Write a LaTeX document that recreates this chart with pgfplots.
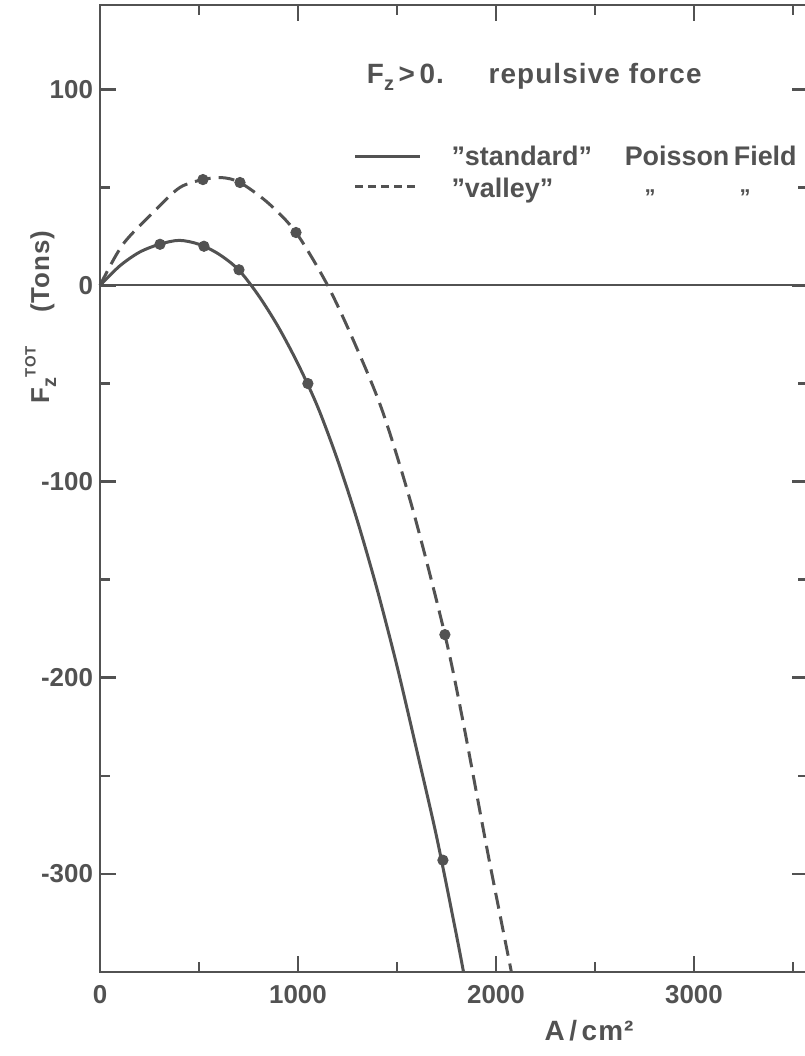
\documentclass[border=0pt]{standalone}
\usepackage{pgfplots}
\pgfplotsset{compat=1.18}
\usepackage{fontspec}
\setmainfont{Liberation Sans}
\newfontfamily\spaced[LetterSpace=4]{Liberation Sans}
\definecolor{ink}{RGB}{82,82,82}

\begin{document}
\begin{tikzpicture}
\begin{axis}[
    at={(0,0)}, anchor=south west,
    scale only axis, width=354bp, height=483.5bp,
    xmin=0, xmax=3576, ymin=-350, ymax=143,
    xtick={0,1000,2000,3000}, xticklabels={0,1000,2000,3000},
    minor xtick={500,1500,2500,3500},
    ytick={-300,-200,-100,0,100}, yticklabels={-300,-200,-100,0,100},
    minor ytick={-250,-150,-50,50},
    major tick length=8bp, minor tick length=5bp,
    axis line style={ink, line width=1.4bp},
    tick style={ink, line width=1.3bp},
    tick label style={font=\fontsize{13}{15}\selectfont\bfseries, text=ink},
    xticklabel style={yshift=-3bp},
    clip=false,
]
% zero line
\addplot[ink, line width=1bp] coordinates {(0,0) (3576,0)};

% "standard" Poisson field
\addplot[ink, line width=1.5bp, smooth] coordinates {
  (0,0) (100,10) (200,17) (300,21) (400,23) (500,21) (600,16) (700,8)
  (800,-5) (900,-21) (1000,-40) (1100,-62) (1200,-89) (1300,-120)
  (1400,-155) (1500,-194) (1600,-237) (1700,-281) (1800,-331) (1836,-350)};
\addplot[ink, only marks, mark=*, mark size=2.6bp] coordinates {
  (303,21) (525,20) (702,8) (1050,-50) (1732,-293)};

% "valley"
\addplot[ink, line width=1.5bp, smooth, dash pattern=on 8bp off 4bp] coordinates {
  (0,0) (116,21) (286,39) (404,50) (520,54) (615,55) (707,52.5) (850,42)
  (990,27) (1150,0) (1293,-31) (1430,-65) (1582,-115) (1742,-178)
  (1833,-222) (1960,-290) (2078,-350)};
\addplot[ink, only marks, mark=*, mark size=2.6bp] coordinates {
  (520,54) (707,52.5) (990,27) (1742,-178)};

% annotations
\node[anchor=west, text=ink, font=\spaced\bfseries\fontsize{14}{16}\selectfont]
  at (axis cs:1313,106.5) {F\raisebox{-0.45ex}{\fontsize{10}{10}\selectfont z}\,>\,0.\hspace{1.6em}repulsive force};
\draw[ink, line width=1.4bp] (axis cs:1288,65.7) -- (axis cs:1616,65.7);
\draw[ink, line width=1.4bp, dash pattern=on 4bp off 2.5bp] (axis cs:1288,50.4) -- (axis cs:1616,50.4);
\node[anchor=west, text=ink, font=\bfseries\fontsize{13.5}{16}\selectfont]
  at (axis cs:1740,66.2) {”standard”};
\node[anchor=west, text=ink, font=\bfseries\fontsize{13.5}{16}\selectfont]
  at (axis cs:2615,66.2) {Poisson\,Field};
\node[anchor=west, text=ink, font=\bfseries\fontsize{13.5}{16}\selectfont]
  at (axis cs:1740,48.5) {”valley”};
\node[text=ink, font=\bfseries\fontsize{11}{12}\selectfont] at (axis cs:2778,47) {„};
\node[text=ink, font=\bfseries\fontsize{11}{12}\selectfont] at (axis cs:3258,47) {„};

\node[rotate=90, text=ink, font=\spaced\bfseries\fontsize{13}{15}\selectfont]
  at (axis cs:-300,-16) {F\raisebox{-0.5ex}{\fontsize{10}{10}\selectfont z}\raisebox{1.0ex}{\fontsize{7.5}{8}\selectfont TOT}\hspace{1.3em}(Tons)};
\node[text=ink, font=\spaced\bfseries\fontsize{14}{16}\selectfont]
  at (axis cs:2470,-380) {A\,/\,cm²};
\end{axis}
\pgfresetboundingbox
\path[use as bounding box] (-50bp,-42bp) rectangle (352.5bp,486bp);
\end{tikzpicture}
\end{document}
